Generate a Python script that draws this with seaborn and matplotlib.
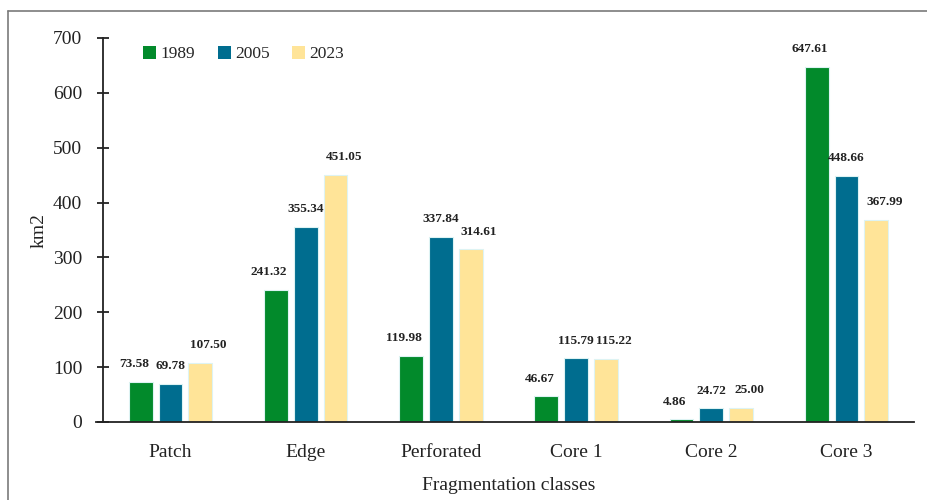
import matplotlib
matplotlib.use("Agg")
import matplotlib.pyplot as plt
from matplotlib.lines import Line2D
import seaborn as sns
import pandas as pd

categories = ["Patch", "Edge", "Perforated", "Core 1", "Core 2", "Core 3"]
years = ["1989", "2005", "2023"]
values_1989 = [73.58, 241.32, 119.98, 46.67, 4.86, 647.61]
values_2005 = [69.78, 355.34, 337.84, 115.79, 24.72, 448.66]
values_2023 = [107.50, 451.05, 314.61, 115.22, 25.00, 367.99]
yticks = [0, 100, 200, 300, 400, 500, 600, 700]

colors = ["#028A2B", "#006D8F", "#FFE498"]
# horizontal nudge (points) of the value labels for each year
label_shift = [-5, 0, 6]

rows = []
for year, vals in zip(years, [values_1989, values_2005, values_2023]):
    for cat, v in zip(categories, vals):
        rows.append({"class": cat, "year": year, "area": v})
df = pd.DataFrame(rows)

sns.set_style("white")
plt.rcParams["font.family"] = ["Liberation Serif", "DejaVu Serif"]

fig = plt.figure(figsize=(9.28, 5.0), dpi=100)
ax = fig.add_axes([0.111, 0.156, 0.874, 0.768])

sns.barplot(data=df, x="class", y="area", hue="year", order=categories,
            hue_order=years, palette=colors, saturation=1, width=0.66, gap=0.2,
            edgecolor="#DDF3F3", linewidth=0.8, ax=ax, errorbar=None)

for container, dx in zip(ax.containers, label_shift):
    for bar in container:
        h = bar.get_height()
        ax.annotate(f"{h:.2f}", (bar.get_x() + bar.get_width() / 2, h),
                    xytext=(dx, 8.5), textcoords="offset points",
                    ha="center", va="bottom", fontsize=9.5,
                    fontweight="bold", color="#222222")

ax.set_ylim(0, 700)
ax.set_xlim(-0.5, 5.5)
ax.set_yticks(yticks)
ax.set_yticklabels([str(t) for t in yticks])
ax.tick_params(axis="y", direction="inout", length=9, width=1.3, labelsize=14,
               pad=10.5, left=True, colors="#222222")
ax.tick_params(axis="x", length=0, labelsize=14, pad=16, colors="#222222")
for side in ["top", "right"]:
    ax.spines[side].set_visible(False)
for side in ["left", "bottom"]:
    ax.spines[side].set_color("#222222")
    ax.spines[side].set_linewidth(1.3)
ax.spines["bottom"].set_bounds(-0.55, 5.5)

ax.set_xlabel("Fragmentation classes", fontsize=14, labelpad=11, color="#222222")
ax.set_ylabel("km2", fontsize=14, labelpad=4, color="#222222")

leg = ax.legend(loc="upper left", bbox_to_anchor=(0.03, 1.02), ncol=3,
                frameon=False, fontsize=12.5, handlelength=0.75,
                handleheight=0.75, handletextpad=0.25, columnspacing=1.3)
for h in leg.legend_handles:
    h.set_edgecolor("none")

# thin grey frame along the top and left edges
frame_kw = dict(color="#7A7A7A", linewidth=1.2, transform=fig.transFigure)
fig.add_artist(Line2D([8.5 / 928, 1.0], [1 - 10.5 / 500, 1 - 10.5 / 500], **frame_kw))
fig.add_artist(Line2D([8.5 / 928, 8.5 / 928], [0.0, 1 - 10.5 / 500], **frame_kw))

fig.savefig("out.png", dpi=100)
